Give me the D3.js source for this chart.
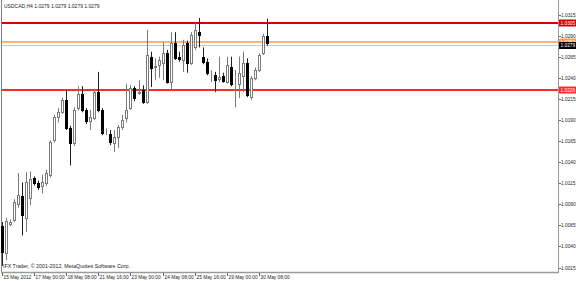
<!DOCTYPE html>
<html>
<head>
<meta charset="utf-8">
<script src="https://cdn.jsdelivr.net/npm/d3@7"></script>
<style>
  html, body { margin: 0; padding: 0; background: #fff; overflow: hidden; }
  svg { display: block; }
  text { font-family: "Liberation Sans", Arial, sans-serif; }
</style>
</head>
<body>
<svg id="chart" width="576" height="281"></svg>
<script>
// USDCAD H4 candles (oldest first)
const opens  = [1.0064,1.0032,1.0067,1.0071,1.0090,1.0100,1.0074,1.0097,1.0121,1.0115,
                1.0112,1.0115,1.0125,1.0166,1.0194,1.0199,1.0214,1.0180,1.0163,1.0204,
                1.0221,1.0202,1.0189,1.0192,1.0223,1.0202,1.0177,1.0173,1.0163,1.0170,
                1.0182,1.0192,1.0204,1.0228,1.0222,1.0225,1.0211,1.0265,1.0253,1.0255,
                1.0258,1.0269,1.0235,1.0281,1.0265,1.0261,1.0281,1.0258,1.0276,1.0294,
                1.0265,1.0259,1.0246,1.0243,1.0239,1.0242,1.0235,1.0253,1.0231,1.0233,
                1.0242,1.0258,1.0217,1.0240,1.0249,1.0269,1.0290,1.0279];
const highs  = [1.0069,1.0074,1.0072,1.0096,1.0127,1.0116,1.0128,1.0129,1.0123,1.0118,
                1.0125,1.0131,1.0166,1.0196,1.0204,1.0216,1.0225,1.0183,1.0205,1.0230,
                1.0230,1.0204,1.0202,1.0227,1.0247,1.0204,1.0180,1.0178,1.0178,1.0184,
                1.0196,1.0233,1.0231,1.0230,1.0237,1.0231,1.0297,1.0271,1.0263,1.0265,
                1.0282,1.0273,1.0294,1.0294,1.0271,1.0285,1.0284,1.0294,1.0305,1.0311,
                1.0276,1.0263,1.0249,1.0247,1.0265,1.0246,1.0265,1.0265,1.0249,1.0265,
                1.0271,1.0263,1.0242,1.0252,1.0269,1.0292,1.0310,1.0279];
const lows   = [1.0017,1.0024,1.0064,1.0069,1.0086,1.0053,1.0057,1.0089,1.0112,1.0107,
                1.0103,1.0112,1.0122,1.0163,1.0187,1.0197,1.0178,1.0136,1.0159,1.0201,
                1.0199,1.0185,1.0178,1.0190,1.0199,1.0172,1.0172,1.0160,1.0152,1.0157,
                1.0178,1.0187,1.0202,1.0212,1.0220,1.0209,1.0209,1.0229,1.0237,1.0240,
                1.0237,1.0233,1.0225,1.0261,1.0259,1.0247,1.0246,1.0255,1.0273,1.0276,
                1.0256,1.0243,1.0235,1.0223,1.0235,1.0234,1.0233,1.0230,1.0205,1.0216,
                1.0223,1.0217,1.0214,1.0237,1.0247,1.0267,1.0278,1.0279];
const closes = [1.0033,1.0070,1.0069,1.0093,1.0101,1.0077,1.0116,1.0120,1.0115,1.0110,
                1.0116,1.0127,1.0164,1.0194,1.0199,1.0214,1.0180,1.0163,1.0202,1.0221,
                1.0202,1.0189,1.0194,1.0223,1.0202,1.0175,1.0177,1.0164,1.0170,1.0182,
                1.0190,1.0202,1.0228,1.0216,1.0223,1.0211,1.0267,1.0252,1.0254,1.0261,
                1.0269,1.0235,1.0281,1.0263,1.0262,1.0279,1.0258,1.0291,1.0297,1.0291,
                1.0259,1.0246,1.0246,1.0237,1.0241,1.0236,1.0255,1.0233,1.0231,1.0246,
                1.0258,1.0220,1.0240,1.0249,1.0267,1.0290,1.0281,1.0279];

// time axis labels and the bar each one sits on
const timeLabels = ["15 May 2012", "17 May 00:00", "18 May 08:00", "21 May 16:00",
                    "23 May 00:00", "24 May 08:00", "25 May 16:00", "29 May 00:00", "30 May 08:00"];
const timeLabelBars = [0, 8, 16, 24, 32, 40, 48, 56, 64];

// price axis labels
const priceTicks = [1.0315, 1.0290, 1.0265, 1.0240, 1.0215, 1.0190, 1.0165,
                    1.0140, 1.0115, 1.0090, 1.0065, 1.0040, 1.0015];

// horizontal lines drawn on the chart
const levelPrices = [1.0305, 1.0282, 1.0226];
const bidPrice = 1.0279;

const symbol = "USDCAD,H4";
const copyright = "IFX Trader, \u00a9 2001-2012, MetaQuotes Software Corp.";

// ---------------------------------------------------------------------------

const levelColors = ["#d40000", "#ff9a50", "#ff2b2b"];
const axisFont = 4.8;

const svg = d3.select("#chart");
const plot = { left: 1, right: 558, bottom: 272 };

const x = d3.scaleLinear().domain([0, opens.length - 1]).range([2, 271]);
const y = d3.scaleLinear().domain([1.0015, 1.0315]).range([267.5, 14.5]);

// frame
svg.append("line")
  .attr("x1", plot.left + 0.5).attr("x2", plot.left + 0.5)
  .attr("y1", 0).attr("y2", plot.bottom)
  .attr("stroke", "#808080");
svg.append("line")
  .attr("x1", plot.right + 0.5).attr("x2", plot.right + 0.5)
  .attr("y1", 0).attr("y2", plot.bottom + 1)
  .attr("stroke", "#9a9a9a");
svg.append("line")
  .attr("x1", plot.left).attr("x2", plot.right + 1)
  .attr("y1", plot.bottom + 0.5).attr("y2", plot.bottom + 0.5)
  .attr("stroke", "#9a9a9a").attr("stroke-width", 1.5);

// price axis
const pt = svg.append("g").selectAll("g")
  .data(priceTicks).enter().append("g")
  .attr("transform", d => `translate(0,${Math.round(y(d)) + 0.5})`);
pt.append("line")
  .attr("x1", plot.right + 1).attr("x2", plot.right + 3)
  .attr("stroke", "#666");
pt.append("text")
  .attr("x", plot.right + 3).attr("y", 1.8)
  .attr("font-size", axisFont).attr("fill", "#222")
  .text(d => d.toFixed(4));

// time axis
const tt = svg.append("g").selectAll("g")
  .data(timeLabelBars).enter().append("g")
  .attr("transform", d => `translate(${Math.round(x(d)) + 0.5},0)`);
tt.append("line")
  .attr("y1", plot.bottom + 1).attr("y2", plot.bottom + 4)
  .attr("stroke", "#666");
tt.append("text")
  .attr("x", 1).attr("y", 279)
  .attr("font-size", axisFont).attr("fill", "#222")
  .text((d, i) => timeLabels[i]);

// bid line
svg.append("line")
  .attr("x1", plot.left + 1).attr("x2", plot.right)
  .attr("y1", Math.round(y(bidPrice)) + 0.5).attr("y2", Math.round(y(bidPrice)) + 0.5)
  .attr("stroke", "#c8c8c8");

// level lines
svg.append("g").selectAll("line")
  .data(levelPrices).enter().append("line")
  .attr("x1", plot.left + 1).attr("x2", plot.right)
  .attr("y1", d => Math.round(y(d))).attr("y2", d => Math.round(y(d)))
  .attr("stroke", (d, i) => levelColors[i])
  .attr("stroke-width", (d, i) => i === 1 ? 1.5 : 2);

// candles
const candles = svg.append("g").selectAll("g")
  .data(d3.range(opens.length)).enter().append("g");

candles.append("line")
  .attr("x1", i => Math.round(x(i)) + 0.5).attr("x2", i => Math.round(x(i)) + 0.5)
  .attr("y1", i => y(highs[i])).attr("y2", i => y(lows[i]))
  .attr("stroke", i => closes[i] < opens[i] ? "#202020" : "#7a7a7a");

candles.append("rect")
  .attr("x", i => Math.round(x(i)) - 0.5)
  .attr("width", 2)
  .attr("y", i => Math.round(y(Math.max(opens[i], closes[i]))) + 0.5)
  .attr("height", i => Math.round(y(Math.min(opens[i], closes[i]))) - Math.round(y(Math.max(opens[i], closes[i]))))
  .attr("fill", i => closes[i] < opens[i] ? "#000" : "#fff")
  .attr("stroke", i => closes[i] < opens[i] ? "#000" : "#7a7a7a");

// price boxes on the right axis
const boxes = svg.append("g").selectAll("g")
  .data(levelPrices).enter().append("g")
  .attr("transform", d => `translate(${plot.right + 1},${Math.round(y(d))})`);
boxes.append("rect")
  .attr("x", 0).attr("y", -3.5).attr("width", 17).attr("height", 7)
  .attr("fill", (d, i) => levelColors[i]);
boxes.append("text")
  .attr("x", 1.5).attr("y", 1.8)
  .attr("font-size", axisFont).attr("fill", "#fff")
  .text(d => d.toFixed(4));

const bid = svg.append("g")
  .attr("transform", `translate(${plot.right + 1},${Math.round(y(bidPrice))})`);
bid.append("rect")
  .attr("x", 0).attr("y", -3).attr("width", 17).attr("height", 7)
  .attr("fill", "#000");
bid.append("text")
  .attr("x", 1.5).attr("y", 2.3)
  .attr("font-size", axisFont).attr("fill", "#fff")
  .text(bidPrice.toFixed(4));

// header and copyright
const last = opens.length - 1;
svg.append("text")
  .attr("x", 4).attr("y", 8)
  .attr("font-size", 5).attr("fill", "#222")
  .text(`${symbol}  ${[opens[last], highs[last], lows[last], closes[last]].map(v => v.toFixed(4)).join(" ")}`);

svg.append("text")
  .attr("x", 3).attr("y", 268)
  .attr("font-size", 5.3).attr("fill", "#222")
  .text(copyright);
</script>
</body>
</html>
